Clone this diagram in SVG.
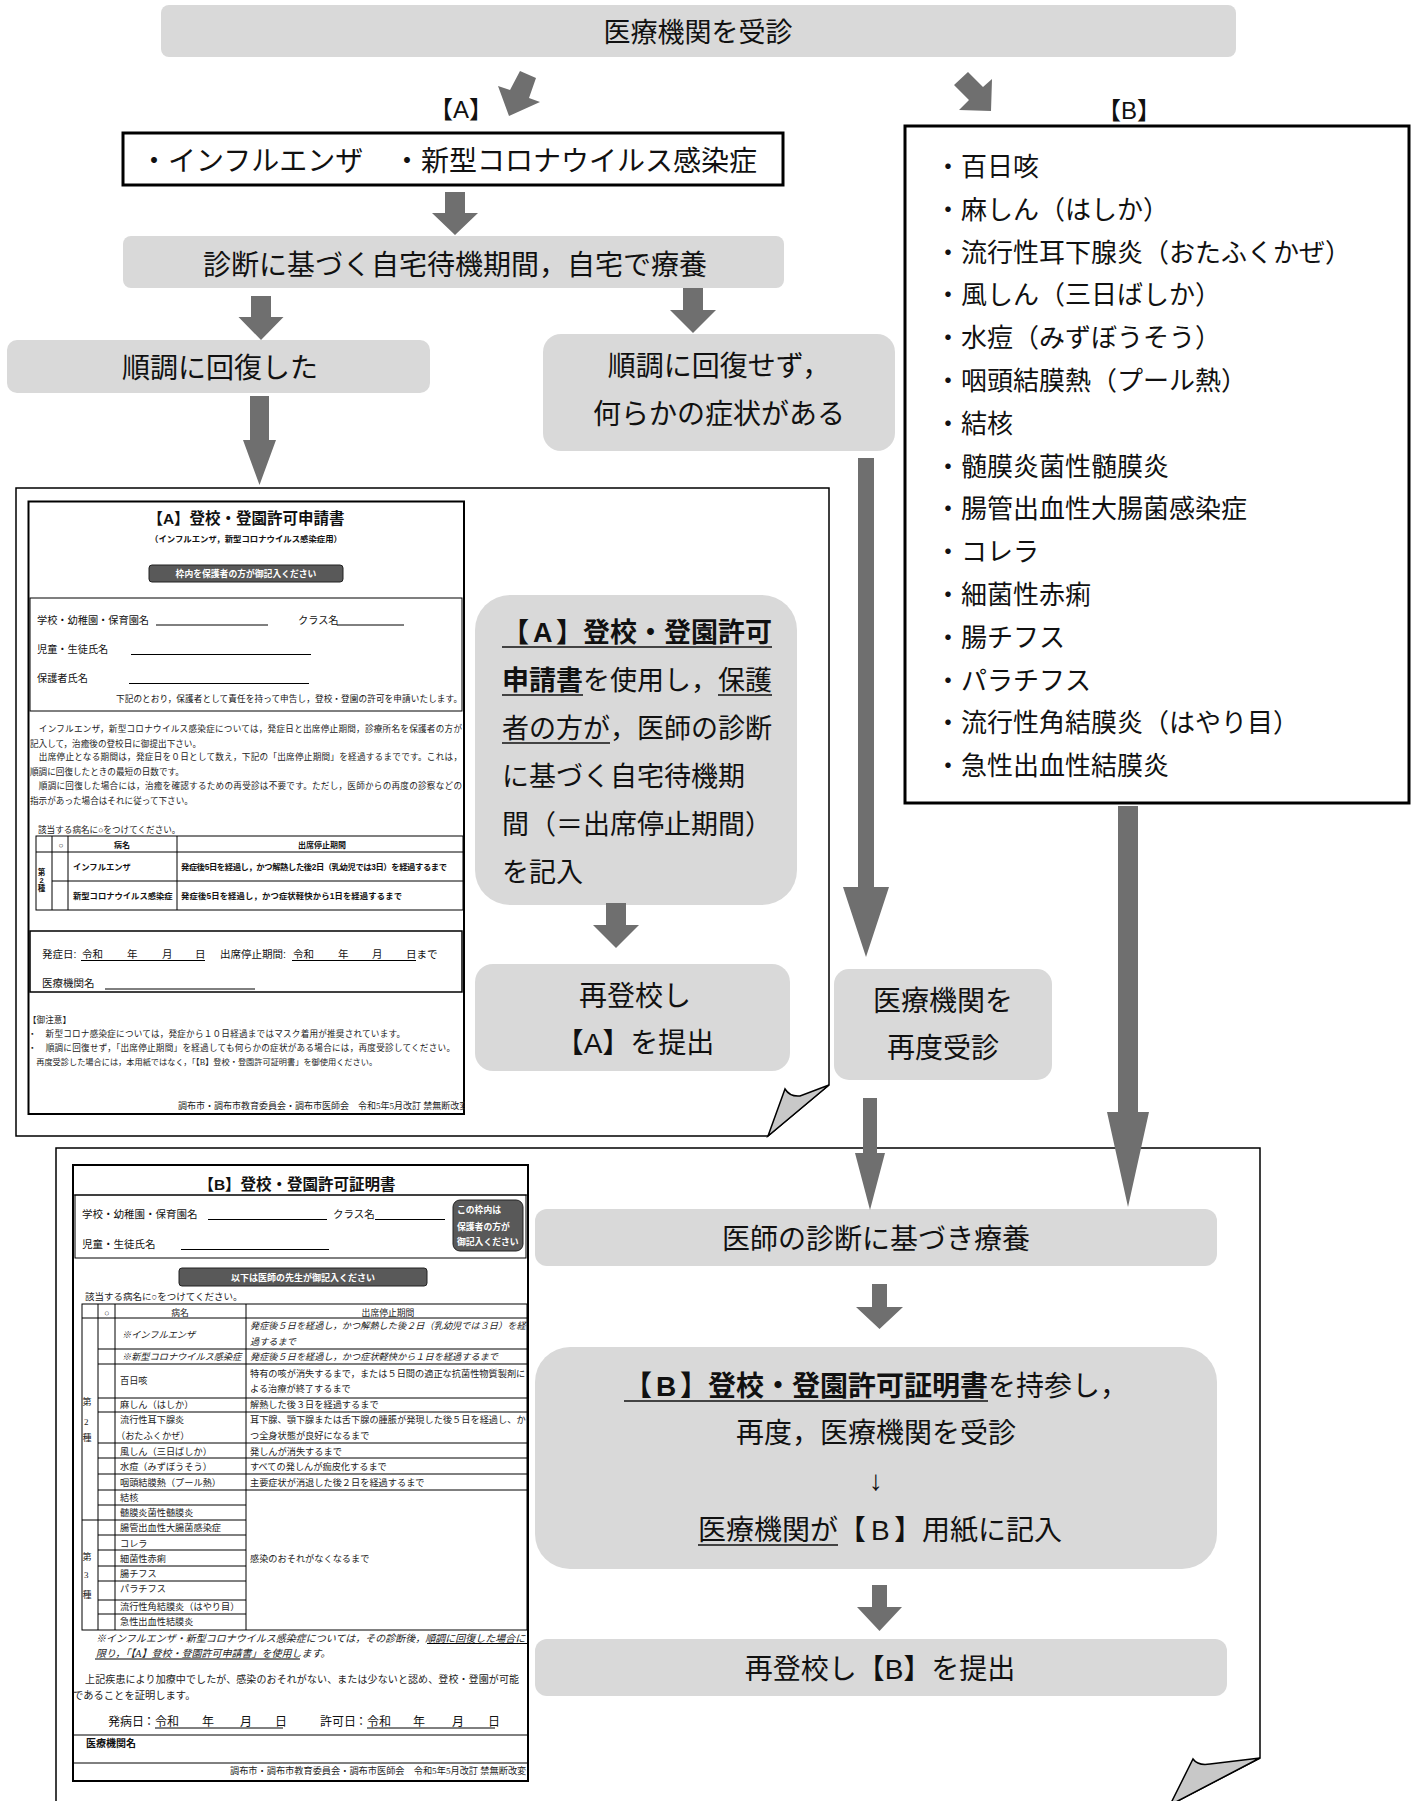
<svg xmlns="http://www.w3.org/2000/svg" width="1415" height="1801" viewBox="0 0 1415 1801">
<defs>
<style>
.t{font-family:'Liberation Sans','Noto Sans CJK JP',sans-serif;fill:#111}
.m{font-family:'Liberation Serif','Noto Sans CJK JP',serif;fill:#222}
.b{font-weight:700}
.i{font-style:italic}
.w{fill:#fff}
.box{fill:#d9d9d9}
.arr{fill:#6f6f6f}
.ln{stroke:#000;stroke-width:1;fill:none}
.ul{stroke:#111;stroke-width:1.5}
.dark{fill:#595959;stroke:#222;stroke-width:1}
</style>
<clipPath id="clipA"><rect x="28" y="501" width="437" height="614"/></clipPath>
<clipPath id="clipB"><rect x="73" y="1165" width="455" height="616"/></clipPath>
</defs>
<rect width="1415" height="1801" fill="#fff"/>

<g id="pageA">
<path d="M16,488 H829 V1085 L768,1136 H16 Z" fill="#fff" stroke="#000" stroke-width="1.5"/>
<path d="M768,1136 L785,1089 Q790,1097 800,1096 L829,1085 Z" fill="#c8c8c8" stroke="#000" stroke-width="1.5"/>
</g>
<g id="pageB">
<path d="M56,1812 V1148 H1260 V1758 L1170,1805" fill="#fff" stroke="#000" stroke-width="1.5"/>
<path d="M1170,1805 L1193,1759 Q1198,1766 1210,1764 L1260,1758 Z" fill="#c8c8c8" stroke="#000" stroke-width="1.5"/>
</g>

<g id="n-top">
<rect class="box" x="161" y="5" width="1075" height="52" rx="8"/>
<text class="t" x="698" y="42" font-size="27" text-anchor="middle">医療機関を受診</text>
</g>
<g id="label-A"><text class="t" x="461" y="118" font-size="24" text-anchor="middle">【A】</text></g>
<g id="label-B"><text class="t" x="1129" y="119" font-size="24" text-anchor="middle">【B】</text></g>

<g id="n-diseaseA">
<rect x="123" y="133" width="660" height="52" fill="#fff" stroke="#000" stroke-width="3"/>
<text class="t" x="140" y="171" font-size="28">・インフルエンザ</text>
<text class="t" x="393" y="171" font-size="28">・新型コロナウイルス感染症</text>
</g>
<g id="n-home">
<rect class="box" x="123" y="236" width="661" height="52" rx="8"/>
<text class="t" x="455" y="275" font-size="28" text-anchor="middle">診断に基づく自宅待機期間，自宅で療養</text>
</g>
<g id="n-recovered">
<rect class="box" x="7" y="340" width="423" height="53" rx="10"/>
<text class="t" x="220" y="378" font-size="28" text-anchor="middle">順調に回復した</text>
</g>
<g id="n-notrecovered">
<rect class="box" x="543" y="334" width="352" height="117" rx="18"/>
<text class="t" x="719" y="376" font-size="28" text-anchor="middle">順調に回復せず，</text>
<text class="t" x="719" y="424" font-size="28" text-anchor="middle">何らかの症状がある</text>
</g>

<g id="n-listB">
<rect x="905" y="126" width="504" height="677" fill="#fff" stroke="#000" stroke-width="3"/>
<g class="t" font-size="26">
<text x="935" y="176">・百日咳</text>
<text x="935" y="219">・麻しん（はしか）</text>
<text x="935" y="262">・流行性耳下腺炎（おたふくかぜ）</text>
<text x="935" y="304">・風しん（三日ばしか）</text>
<text x="935" y="347">・水痘（みずぼうそう）</text>
<text x="935" y="390">・咽頭結膜熱（プール熱）</text>
<text x="935" y="433">・結核</text>
<text x="935" y="476">・髄膜炎菌性髄膜炎</text>
<text x="935" y="518">・腸管出血性大腸菌感染症</text>
<text x="935" y="561">・コレラ</text>
<text x="935" y="604">・細菌性赤痢</text>
<text x="935" y="647">・腸チフス</text>
<text x="935" y="690">・パラチフス</text>
<text x="935" y="732">・流行性角結膜炎（はやり目）</text>
<text x="935" y="775">・急性出血性結膜炎</text>
</g>
</g>

<g id="formA">
<rect x="28.5" y="501.5" width="435.5" height="612.5" fill="#fff" stroke="#000" stroke-width="2"/>
<g clip-path="url(#clipA)">
<text class="t b" x="246" y="524" font-size="15.5" text-anchor="middle">【A】登校・登園許可申請書</text>
<text class="t b" x="246" y="542" font-size="8.4" text-anchor="middle">（インフルエンザ，新型コロナウイルス感染症用）</text>
<rect class="dark" x="149" y="565" width="194" height="17" rx="3"/>
<text class="t b w" x="246" y="577" font-size="8.8" text-anchor="middle">枠内を保護者の方が御記入ください</text>
<rect class="ln" x="30" y="598" width="432" height="113"/>
<g class="t" font-size="10.2">
<text x="37" y="623.5">学校・幼稚園・保育園名</text>
<text x="298" y="623.5">クラス名</text>
<text x="37" y="652.5">児童・生徒氏名</text>
<text x="37" y="681.5">保護者氏名</text>
</g>
<g class="ln">
<line x1="156" y1="625" x2="268" y2="625"/>
<line x1="337" y1="625" x2="404" y2="625"/>
<line x1="131" y1="654.5" x2="311" y2="654.5"/>
<line x1="129" y1="683.5" x2="309" y2="683.5"/>
</g>
<text class="t" x="116" y="702" font-size="8.6" textLength="346">下記のとおり，保護者として責任を持って申告し，登校・登園の許可を申請いたします。</text>
<g class="m" font-size="8.6">
<text x="30" y="731.5" textLength="432">　インフルエンザ，新型コロナウイルス感染症については，発症日と出席停止期間，診療所名を保護者の方が</text>
<text x="30" y="746.5">記入して，治癒後の登校日に御提出下さい。</text>
<text x="30" y="760" textLength="432">　出席停止となる期間は，発症日を０日として数え，下記の「出席停止期間」を経過するまでです。これは，</text>
<text x="30" y="775">順調に回復したときの最短の日数です。</text>
<text x="30" y="789" textLength="432">　順調に回復した場合には，治癒を確認するための再受診は不要です。ただし，医師からの再度の診察などの</text>
<text x="30" y="804">指示があった場合はそれに従って下さい。</text>
<text x="38" y="833">該当する病名に○をつけてください。</text>
</g>
<rect class="ln" x="36" y="836" width="427" height="74"/>
<g class="ln">
<line x1="36" y1="852" x2="463" y2="852"/>
<line x1="52" y1="881" x2="463" y2="881"/>
<line x1="52" y1="836" x2="52" y2="910"/>
<line x1="68" y1="836" x2="68" y2="910"/>
<line x1="177" y1="836" x2="177" y2="910"/>
</g>
<g class="t b" font-size="8" text-anchor="middle">
<text x="61" y="848">○</text>
<text x="122" y="848">病名</text>
<text x="322" y="848">出席停止期間</text>
<text x="41.5" y="875" font-size="7.5">第</text>
<text x="41.5" y="883" font-size="7.5">2</text>
<text x="41.5" y="891" font-size="7.5">種</text>
</g>
<g class="t b" font-size="8.3">
<text x="73" y="869.5">インフルエンザ</text>
<text x="73" y="899">新型コロナウイルス感染症</text>
<text x="181" y="869.5" textLength="266">発症後5日を経過し，かつ解熱した後2日（乳幼児では3日）を経過するまで</text>
<text x="181" y="899" textLength="221">発症後5日を経過し，かつ症状軽快から1日を経過するまで</text>
</g>
<rect x="30" y="931" width="432" height="61" fill="none" stroke="#000" stroke-width="1.5"/>
<g class="t" font-size="10.5">
<text x="42" y="958">発症日:</text>
<text x="82" y="958">令和</text>
<text x="127" y="958">年</text>
<text x="162" y="958">月</text>
<text x="195" y="958">日</text>
<text x="220" y="958">出席停止期間:</text>
<text x="293" y="958">令和</text>
<text x="338" y="958">年</text>
<text x="372" y="958">月</text>
<text x="406" y="958">日まで</text>
<text x="42" y="987">医療機関名</text>
</g>
<g class="ln">
<line x1="81" y1="960.5" x2="205" y2="960.5"/>
<line x1="292" y1="960.5" x2="416" y2="960.5"/>
<line x1="105" y1="989" x2="255" y2="989"/>
</g>
<g class="m" font-size="8.6">
<text x="28" y="1023">【御注意】</text>
<text x="28" y="1036.5" textLength="377">・　新型コロナ感染症については，発症から１０日経過まではマスク着用が推奨されています。</text>
<text x="28" y="1051" textLength="427">・　順調に回復せず，「出席停止期間」を経過しても何らかの症状がある場合には，再度受診してください。</text>
<text x="28" y="1065" font-size="8.2">　再度受診した場合には，本用紙ではなく，「【B】登校・登園許可証明書」を御使用ください。</text>
<text x="178" y="1109" font-size="9">調布市・調布市教育委員会・調布市医師会　令和5年5月改訂 禁無断改変</text>
</g>
</g>
</g>

<g id="n-useA">
<rect class="box" x="475" y="595" width="322" height="310" rx="35"/>
<g class="t" font-size="27">
<text x="502" y="642" class="t b"><tspan>【</tspan><tspan x="533">A</tspan><tspan x="556">】登校・登園許可</tspan></text>
<text x="502" y="690"><tspan class="b">申請書</tspan><tspan x="583">を使用し，</tspan><tspan x="718">保護</tspan></text>
<text x="502" y="738">者の方が<tspan x="610">，医師の診断</tspan></text>
<text x="502" y="786">に基づく自宅待機期</text>
<text x="502" y="834">間（＝出席停止期間）</text>
<text x="502" y="882">を記入</text>
</g>
<g class="ul">
<line x1="502" y1="647" x2="772" y2="647"/>
<line x1="502" y1="695" x2="583" y2="695"/>
<line x1="718" y1="695" x2="772" y2="695"/>
<line x1="502" y1="743" x2="610" y2="743"/>
</g>
</g>
<g id="n-submitA">
<rect class="box" x="475" y="964" width="315" height="107" rx="18"/>
<text class="t" x="635" y="1006" font-size="28" text-anchor="middle">再登校し</text>
<text class="t" x="635" y="1053" font-size="28" text-anchor="middle">【A】を提出</text>
</g>
<g id="n-revisit">
<rect class="box" x="834" y="969" width="218" height="111" rx="15"/>
<text class="t" x="943" y="1011" font-size="28" text-anchor="middle">医療機関を</text>
<text class="t" x="943" y="1058" font-size="28" text-anchor="middle">再度受診</text>
</g>

<g id="formB">
<rect x="73" y="1165" width="455" height="616" fill="#fff" stroke="#000" stroke-width="2"/>
<g clip-path="url(#clipB)">
<text class="t b" x="297" y="1189.5" font-size="15.5" text-anchor="middle">【B】登校・登園許可証明書</text>
<line class="ln" x1="73" y1="1195" x2="528" y2="1195"/>
<rect class="ln" x="75" y="1195" width="451" height="63"/>
<g class="t" font-size="10.5">
<text x="82" y="1218">学校・幼稚園・保育園名</text>
<text x="333" y="1218">クラス名</text>
<text x="82" y="1247.5">児童・生徒氏名</text>
</g>
<g class="ln">
<line x1="208" y1="1219.5" x2="327" y2="1219.5"/>
<line x1="375" y1="1219.5" x2="445" y2="1219.5"/>
<line x1="181" y1="1249.5" x2="329" y2="1249.5"/>
</g>
<rect class="dark" x="453" y="1200" width="70" height="51" rx="7"/>
<g class="t b w" font-size="8.8">
<text x="457" y="1213" class="t b w">この枠内は</text>
<text x="457" y="1230" class="t b w">保護者の方が</text>
<text x="457" y="1245" class="t b w">御記入ください</text>
</g>
<rect class="dark" x="179" y="1268" width="248" height="18" rx="3"/>
<text class="t b w" x="303" y="1280.5" font-size="9" text-anchor="middle">以下は医師の先生が御記入ください</text>
<text class="m" x="85" y="1300" font-size="9.5">該当する病名に○をつけてください。</text>
<rect class="ln" x="82" y="1304" width="445" height="326"/>
<g class="ln">
<line x1="98" y1="1304" x2="98" y2="1630"/>
<line x1="115" y1="1304" x2="115" y2="1630"/>
<line x1="246" y1="1304" x2="246" y2="1630"/>
<line x1="82" y1="1318" x2="527" y2="1318"/>
<line x1="98" y1="1349" x2="527" y2="1349"/>
<line x1="98" y1="1364" x2="527" y2="1364"/>
<line x1="98" y1="1398" x2="527" y2="1398"/>
<line x1="98" y1="1412" x2="527" y2="1412"/>
<line x1="98" y1="1443" x2="527" y2="1443"/>
<line x1="98" y1="1458" x2="527" y2="1458"/>
<line x1="98" y1="1474" x2="527" y2="1474"/>
<line x1="98" y1="1490" x2="527" y2="1490"/>
<line x1="98" y1="1505" x2="246" y2="1505"/>
<line x1="82" y1="1520" x2="246" y2="1520"/>
<line x1="98" y1="1535" x2="246" y2="1535"/>
<line x1="98" y1="1550" x2="246" y2="1550"/>
<line x1="98" y1="1566" x2="246" y2="1566"/>
<line x1="98" y1="1581" x2="246" y2="1581"/>
<line x1="98" y1="1600" x2="246" y2="1600"/>
<line x1="98" y1="1614" x2="246" y2="1614"/>
</g>
<g class="m" font-size="8.8" text-anchor="middle">
<text x="107" y="1316">○</text>
<text x="180" y="1316">病名</text>
<text x="388" y="1316">出席停止期間</text>
</g>
<g class="m" font-size="9">
<text x="82.5" y="1405">第</text>
<text x="84" y="1425">2</text>
<text x="82.5" y="1441">種</text>
<text x="82.5" y="1560">第</text>
<text x="84" y="1578">3</text>
<text x="82.5" y="1598">種</text>
</g>
<g class="m" font-size="9.2">
<text x="122" y="1338" class="m i">※インフルエンザ</text>
<text x="122" y="1360" class="m i">※新型コロナウイルス感染症</text>
<text x="120" y="1384">百日咳</text>
<text x="120" y="1408">麻しん（はしか）</text>
<text x="120" y="1423">流行性耳下腺炎</text>
<text x="116" y="1439">（おたふくかぜ）</text>
<text x="120" y="1455">風しん（三日ばしか）</text>
<text x="120" y="1470">水痘（みずぼうそう）</text>
<text x="120" y="1485.5">咽頭結膜熱（プール熱）</text>
<text x="120" y="1501">結核</text>
<text x="120" y="1515.5">髄膜炎菌性髄膜炎</text>
<text x="120" y="1531">腸管出血性大腸菌感染症</text>
<text x="120" y="1546.5">コレラ</text>
<text x="120" y="1561.5">細菌性赤痢</text>
<text x="120" y="1577">腸チフス</text>
<text x="120" y="1592">パラチフス</text>
<text x="120" y="1609.5">流行性角結膜炎（はやり目）</text>
<text x="120" y="1624.5">急性出血性結膜炎</text>
<text x="250" y="1328.5" class="m i">発症後５日を経過し，かつ解熱した後２日（乳幼児では３日）を経</text>
<text x="250" y="1345" class="m i">過するまで</text>
<text x="250" y="1360" class="m i">発症後５日を経過し，かつ症状軽快から１日を経過するまで</text>
<text x="250" y="1377">特有の咳が消失するまで，または５日間の適正な抗菌性物質製剤に</text>
<text x="250" y="1392">よる治療が終了するまで</text>
<text x="250" y="1408">解熱した後３日を経過するまで</text>
<text x="250" y="1423">耳下腺、顎下腺または舌下腺の腫脹が発現した後５日を経過し、か</text>
<text x="250" y="1439">つ全身状態が良好になるまで</text>
<text x="250" y="1455">発しんが消失するまで</text>
<text x="250" y="1470">すべての発しんが痂皮化するまで</text>
<text x="250" y="1485.5">主要症状が消退した後２日を経過するまで</text>
<text x="250" y="1561.5">感染のおそれがなくなるまで</text>
</g>
<g class="m i" font-size="10">
<text x="96" y="1641.5" class="m i">※インフルエンザ・新型コロナウイルス感染症については，その診断後，順調に回復した場合に</text>
<text x="96" y="1657" class="m i">限り，「【A】登校・登園許可申請書」を使用します。</text>
</g>
<g class="ln">
<line x1="427" y1="1643.5" x2="528" y2="1643.5"/>
<line x1="95" y1="1659" x2="300" y2="1659"/>
</g>
<text class="m" x="75" y="1683" font-size="10" textLength="444">　上記疾患により加療中でしたが、感染のおそれがない、または少ないと認め、登校・登園が可能</text>
<text class="m" x="73" y="1699" font-size="10.3">であることを証明します。</text>
<g class="t" font-size="12">
<text x="108" y="1725.5">発病日</text>
<text x="143" y="1725.5">：</text>
<text x="155" y="1725.5">令和</text>
<text x="202" y="1725.5">年</text>
<text x="240" y="1725.5">月</text>
<text x="275" y="1725.5">日</text>
<text x="320" y="1725.5">許可日</text>
<text x="355" y="1725.5">：</text>
<text x="367" y="1725.5">令和</text>
<text x="413" y="1725.5">年</text>
<text x="452" y="1725.5">月</text>
<text x="488" y="1725.5">日</text>
</g>
<g class="ln">
<line x1="155" y1="1728" x2="283" y2="1728"/>
<line x1="367" y1="1728" x2="495" y2="1728"/>
<line x1="73" y1="1735" x2="528" y2="1735"/>
<line x1="73" y1="1763" x2="528" y2="1763"/>
</g>
<text class="t b" x="86" y="1747" font-size="10">医療機関名</text>
<text class="m" x="230" y="1774" font-size="9.2">調布市・調布市教育委員会・調布市医師会　令和5年5月改訂 禁無断改変</text>
</g>
</g>

<g id="n-treat">
<rect class="box" x="535" y="1209" width="682" height="57" rx="12"/>
<text class="t" x="876" y="1249" font-size="28" text-anchor="middle">医師の診断に基づき療養</text>
</g>
<g id="n-certB">
<rect class="box" x="535" y="1347" width="682" height="222" rx="35"/>
<text class="t b" x="624" y="1396" font-size="28"><tspan>【</tspan><tspan x="656">B</tspan><tspan x="680">】登校・登園許可証明書</tspan><tspan x="988" font-weight="400">を持参し，</tspan></text>
<text class="t" x="876" y="1443" font-size="28" text-anchor="middle">再度，医療機関を受診</text>
<text class="t" x="876" y="1490" font-size="28" text-anchor="middle">↓</text>
<text class="t" x="698" y="1540" font-size="28">医療機関が<tspan x="838">【</tspan><tspan x="871">B</tspan><tspan x="894">】用紙に記入</tspan></text>
<line class="ul" x1="624" y1="1401" x2="988" y2="1401"/>
<line class="ul" x1="698" y1="1545" x2="838" y2="1545"/>
</g>
<g id="n-submitB">
<rect class="box" x="535" y="1639" width="692" height="57" rx="12"/>
<text class="t" x="880" y="1679" font-size="28" text-anchor="middle">再登校し【B】を提出</text>
</g>

<g id="connectors" class="arr">
<polygon points="520,71 536,78 529,98 540,102 509,116 498,86 510,90"/>
<polygon points="954,85 968,72 983,87 992,79 991,111 959,110 969,100"/>
<path d="M445,192 H465 V213 H478 L455,235 L432,213 H445 Z"/>
<path d="M251,296 H271 V317 H283.5 L261,340 L238.5,317 H251 Z"/>
<path d="M683,288 H703 V310 H716 L693,333 L670,310 H683 Z"/>
<path d="M250,396 H269 V440 H276 L259.5,485 L243,440 H250 Z"/>
<path d="M858,458 H874 V887 H889 L866,957 L843,887 H858 Z"/>
<path d="M606,903 H626 V925 H639 L616,948 L593,925 H606 Z"/>
<path d="M863,1098 H877 V1153 H885 L870,1210 L855,1153 H863 Z"/>
<path d="M1118,806 H1138 V1112 H1149 L1128,1207 L1107,1112 H1118 Z"/>
<path d="M872,1284 H887 V1307 H903 L879.5,1329 L856,1307 H872 Z"/>
<path d="M872,1585 H887 V1607 H902 L879.5,1631 L857,1607 H872 Z"/>
</g>
</svg>
